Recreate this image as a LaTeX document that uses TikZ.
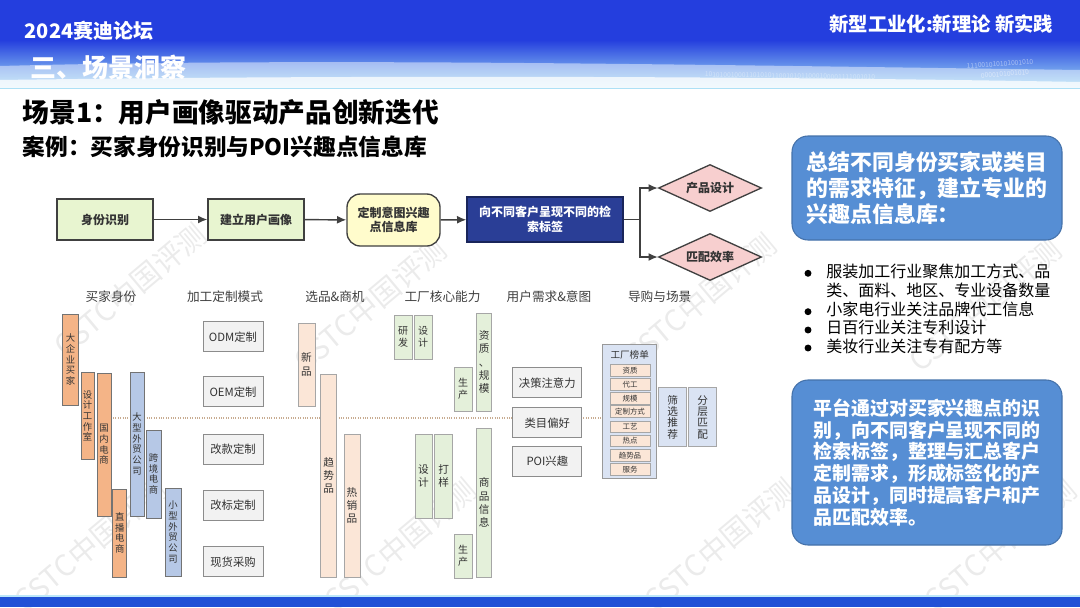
\documentclass[tikz,border=0pt]{standalone}
\usepackage{fontspec}
\setmainfont{Noto Sans CJK SC}
\usetikzlibrary{shapes.geometric,arrows.meta}

\definecolor{banA}{RGB}{36,62,222}
\definecolor{banC}{RGB}{160,220,246}
\definecolor{bottomblue}{RGB}{32,80,214}
\definecolor{flowgreen}{RGB}{232,245,208}
\definecolor{flowyellow}{RGB}{255,252,204}
\definecolor{flowblue}{RGB}{42,62,150}
\definecolor{flowpink}{RGB}{247,207,207}
\definecolor{noteblue}{RGB}{86,142,212}
\definecolor{orangebar}{RGB}{244,180,135}
\definecolor{bluebar}{RGB}{182,200,230}
\definecolor{beigebar}{RGB}{251,230,215}
\definecolor{greenbar}{RGB}{228,240,218}
\definecolor{graybox}{RGB}{242,242,242}
\definecolor{listblue}{RGB}{218,227,243}
\definecolor{dotline}{RGB}{200,172,145}
\definecolor{darktext}{RGB}{51,51,51}

\tikzset{
  wh/.style 2 args={minimum width=#1*0.75pt, minimum height=#2*0.75pt},
  flowbox/.style={draw=black!75, line width=1pt, inner sep=0pt, align=center,
    font=\fontsize{9}{11}\selectfont\bfseries, text=darktext},
  flowarrow/.style={-{Latex[length=7pt,width=6pt]}, draw=black!75, line width=1.1pt},
  idbar/.style={draw=black!55, line width=0.5pt, inner sep=0pt, align=center,
    font=\fontsize{7}{8}\selectfont, text=darktext},
  modebox/.style={draw=black!45, fill=graybox, line width=0.6pt, inner sep=0pt,
    font=\fontsize{8.5}{10}\selectfont, text=darktext},
  colhead/.style={font=\fontsize{9.5}{11}\selectfont, text=black!75},
  rankitem/.style={draw=black!35, fill=beigebar, line width=0.4pt, inner sep=0pt,
    font=\fontsize{5.6}{6}\selectfont, text=darktext},
  notebox/.style={fill=noteblue, draw=noteblue!80!black, line width=0.8pt,
    rounded corners=12pt, inner sep=0pt, text=white, align=left},
  wmtext/.style={rotate=40, font=\fontsize{22}{24}\selectfont, opacity=0.08},
}

\begin{document}
\begin{tikzpicture}[x=0.75pt,y=-0.75pt]
\useasboundingbox (0,0) rectangle (1080,607);
\fill[white] (0,0) rectangle (1080,607);

% banner
\fill[banA] (0,0) rectangle (1080,88);
\shade[top color=banA, bottom color=banC] (0,40) rectangle (1080,88);
\fill[white, opacity=0.45] (0,66) .. controls (300,58) and (650,64) .. (1080,70) -- (1080,88) -- (0,88) -- cycle;
\fill[white, opacity=0.75] (0,80) .. controls (350,75) and (750,76) .. (1080,82) -- (1080,88) -- (0,88) -- cycle;
\node[text=white, opacity=0.45, font=\fontsize{5}{5}\selectfont, rotate=4] (bin1) at (1000,64) {111001010101001010};
\node[text=white, opacity=0.45, font=\fontsize{5}{5}\selectfont, rotate=4] (bin2) at (1005,74) {0000101001010};
\node[text=white, opacity=0.35, font=\fontsize{5}{5}\selectfont, rotate=-1] (bin3) at (790,76) {1010100100011010101100101011000100001111001010};

\node[anchor=west, text=white, font=\fontsize{15}{18}\selectfont\bfseries] (forum) at (20,31) {2024赛迪论坛};
\node[anchor=west, text=white, font=\fontsize{19.5}{22}\selectfont\bfseries] (part) at (26,68) {三、场景洞察};
\node[anchor=east, text=white, font=\fontsize{14.5}{16}\selectfont\bfseries] (motto) at (1058,24) {新型工业化:新理论 新实践};

% watermarks
\foreach \wx/\wy in {130/290, 370/305, 700/300, 985/305, 90/545, 400/545, 720/545, 1000/545}
  \node[wmtext, text=black] (wm-\wx-\wy) at (\wx,\wy) {CSTC中国评测};

\fill[banC!70] (0,595) rectangle (1080,597);
\fill[bottomblue] (0,597) rectangle (1080,607);

% titles
\node[anchor=west, font=\fontsize{20}{24}\selectfont\bfseries] (scene) at (18,112) {场景1：用户画像驱动产品创新迭代};
\node[anchor=west, font=\fontsize{17}{20}\selectfont\bfseries] (case) at (18,147) {案例：买家身份识别与POI兴趣点信息库};

% flow row
\node[flowbox, fill=flowgreen, wh={96}{41}] (sfsb) at (105,219.5) {身份识别};
\node[flowbox, fill=flowgreen, wh={96}{41}] (jlhx) at (256,219.5) {建立用户画像};
\node[flowbox, fill=flowyellow, rounded corners=10pt, wh={93}{52}] (ytk) at (393.5,220) {定制意图兴趣\\点信息库};
\node[flowbox, fill=flowblue, draw=flowblue!60!black, text=white, wh={156}{45}] (jsbq) at (545,219.5) {向不同客户呈现不同的检\\索标签};
\node[flowbox, diamond, aspect=2.2, fill=flowpink, wh={103}{47}] (cpsj) at (710,188) {产品设计};
\node[flowbox, diamond, aspect=2.2, fill=flowpink, wh={103}{47}] (ppxl) at (710,257) {匹配效率};
\coordinate (fork) at (640,219.5);

\draw[flowarrow] (sfsb) -- (jlhx);
\draw[flowarrow] (jlhx) -- (ytk);
\draw[flowarrow] (ytk) -- (jsbq);
\draw[draw=black!75, line width=1.1pt] (jsbq) -- (fork);
\draw[flowarrow] (fork) |- (cpsj);
\draw[flowarrow] (fork) |- (ppxl);

% right notes
\node[notebox, wh={270}{104}, font=\fontsize{16.4}{19.5}\selectfont\bfseries] (summary) at (927,188)
  {总结不同身份买家或类目\\的需求特征，建立专业的\\兴趣点信息库：};
\node[anchor=north west, align=left, inner sep=0pt, font=\fontsize{12}{14}\selectfont] (blist) at (826,264)
  {服装加工行业聚焦加工方式、品\\类、面料、地区、专业设备数量\\小家电行业关注品牌代工信息\\日百行业关注专利设计\\美妆行业关注专有配方等};
\foreach \by in {273.3, 311.7, 330, 348}
  \fill (808,\by) circle (2.6pt);
\node[notebox, wh={270}{165}, font=\fontsize{14.2}{16.4}\selectfont\bfseries] (platform) at (927,462.5)
  {平台通过对买家兴趣点的识\\别，向不同客户呈现不同的\\检索标签，整理与汇总客户\\定制需求，形成标签化的产\\品设计，同时提高客户和产\\品匹配效率。};

% column heads
\node[colhead] (h1) at (111,297) {买家身份};
\node[colhead] (h2) at (225,297) {加工定制模式};
\node[colhead] (h3) at (335,297) {选品\&商机};
\node[colhead] (h4) at (442.5,297) {工厂核心能力};
\node[colhead] (h5) at (549,297) {用户需求\&意图};
\node[colhead] (h6) at (659.7,297) {导购与场景};

\draw[dotline, densely dotted, line width=0.8pt] (113,418) -- (603,418);

% buyers
\node[idbar, fill=orangebar, wh={16}{91}] (dqy) at (70.5,359.5) {大\\企\\业\\买\\家};
\node[idbar, fill=orangebar, wh={13}{87}] (sjs) at (87.5,416) {设\\计\\工\\作\\室};
\node[idbar, fill=orangebar, wh={14}{143}] (gnd) at (104,444.5) {国\\内\\电\\商};
\node[idbar, fill=orangebar, wh={14}{88}] (zbd) at (119.7,533) {直\\播\\电\\商};
\node[idbar, fill=bluebar, wh={14}{144}] (dxw) at (137,444) {大\\型\\外\\贸\\公\\司};
\node[idbar, fill=bluebar, wh={15}{88}] (kjd) at (153.5,474) {跨\\境\\电\\商};
\node[idbar, fill=bluebar, wh={16}{88}] (xxw) at (173,532) {小\\型\\外\\贸\\公\\司};

% modes
\node[modebox, wh={60}{30}] (odm) at (233,336.7) {ODM定制};
\node[modebox, wh={60}{30}] (oem) at (233,391.7) {OEM定制};
\node[modebox, wh={60}{30}] (gk) at (233,449) {改款定制};
\node[modebox, wh={60}{30}] (gb) at (233,505.3) {改标定制};
\node[modebox, wh={60}{30}] (xhcg) at (233,561.7) {现货采购};

% products
\node[idbar, fill=beigebar, draw=black!35, font=\fontsize{8}{10}\selectfont, wh={17}{83}] (xp) at (306.5,364.5) {新\\品};
\node[idbar, fill=beigebar, draw=black!35, font=\fontsize{8}{10}\selectfont, wh={16}{203}] (qsp) at (328.8,475.4) {趋\\势\\品};
\node[idbar, fill=beigebar, draw=black!35, font=\fontsize{8}{10}\selectfont, wh={16}{143}] (rxp) at (352,505.4) {热\\销\\品};

% factory
\node[idbar, fill=greenbar, draw=black!35, font=\fontsize{7.5}{9}\selectfont, wh={18}{44}] (yf) at (403,337) {研\\发};
\node[idbar, fill=greenbar, draw=black!35, font=\fontsize{7.5}{9}\selectfont, wh={18}{44}] (sja) at (423,337) {设\\计};
\node[idbar, fill=greenbar, draw=black!35, font=\fontsize{7.5}{9}\selectfont, wh={18}{44}] (sca) at (463,389) {生\\产};
\node[idbar, fill=greenbar, draw=black!35, font=\fontsize{8}{10}\selectfont, wh={15}{98}] (zzgm) at (484.2,362) {资\\质\\、\\规\\模};
\node[idbar, fill=greenbar, draw=black!35, font=\fontsize{8}{10}\selectfont, wh={17}{84}] (sjb) at (423.5,476) {设\\计};
\node[idbar, fill=greenbar, draw=black!35, font=\fontsize{8}{10}\selectfont, wh={18}{84}] (dy) at (443.8,476) {打\\样};
\node[idbar, fill=greenbar, draw=black!35, font=\fontsize{7.5}{9}\selectfont, wh={18}{44}] (scb) at (463,556) {生\\产};
\node[idbar, fill=greenbar, draw=black!35, font=\fontsize{8}{10}\selectfont, wh={15}{149}] (spxx) at (484.2,502.5) {商\\品\\信\\息};

% needs
\node[modebox, wh={69}{30}] (jczy) at (547.3,382.7) {决策注意力};
\node[modebox, wh={69}{30}] (lmph) at (547.3,422.7) {类目偏好};
\node[modebox, wh={69}{30}] (poi) at (547.3,461) {POI兴趣};

% shopping guide
\node[draw=black!40, fill=listblue, line width=0.6pt, wh={54}{134}] (gcbd) at (629.7,411.2) {};
\node[font=\fontsize{7.2}{8}\selectfont, text=darktext] (gcbdt) at (629.7,354.5) {工厂榜单};
\foreach \y/\t [count=\i] in {370.2/资质, 384.3/代工, 398.3/规模, 411.3/定制方式, 426.8/工艺, 440.8/热点, 455.2/趋势品, 469.2/服务}
  \node[rankitem, wh={40}{11.7}] (r\i) at (630,\y) {\t};
\node[idbar, fill=listblue, draw=black!35, font=\fontsize{8}{8.5}\selectfont, wh={28}{59}] (sxtj) at (672.8,417.2) {筛\\选\\推\\荐};
\node[idbar, fill=listblue, draw=black!35, font=\fontsize{8}{8.5}\selectfont, wh={28}{59}] (fcpp) at (702.8,417.2) {分\\层\\匹\\配};

\end{tikzpicture}
\end{document}
